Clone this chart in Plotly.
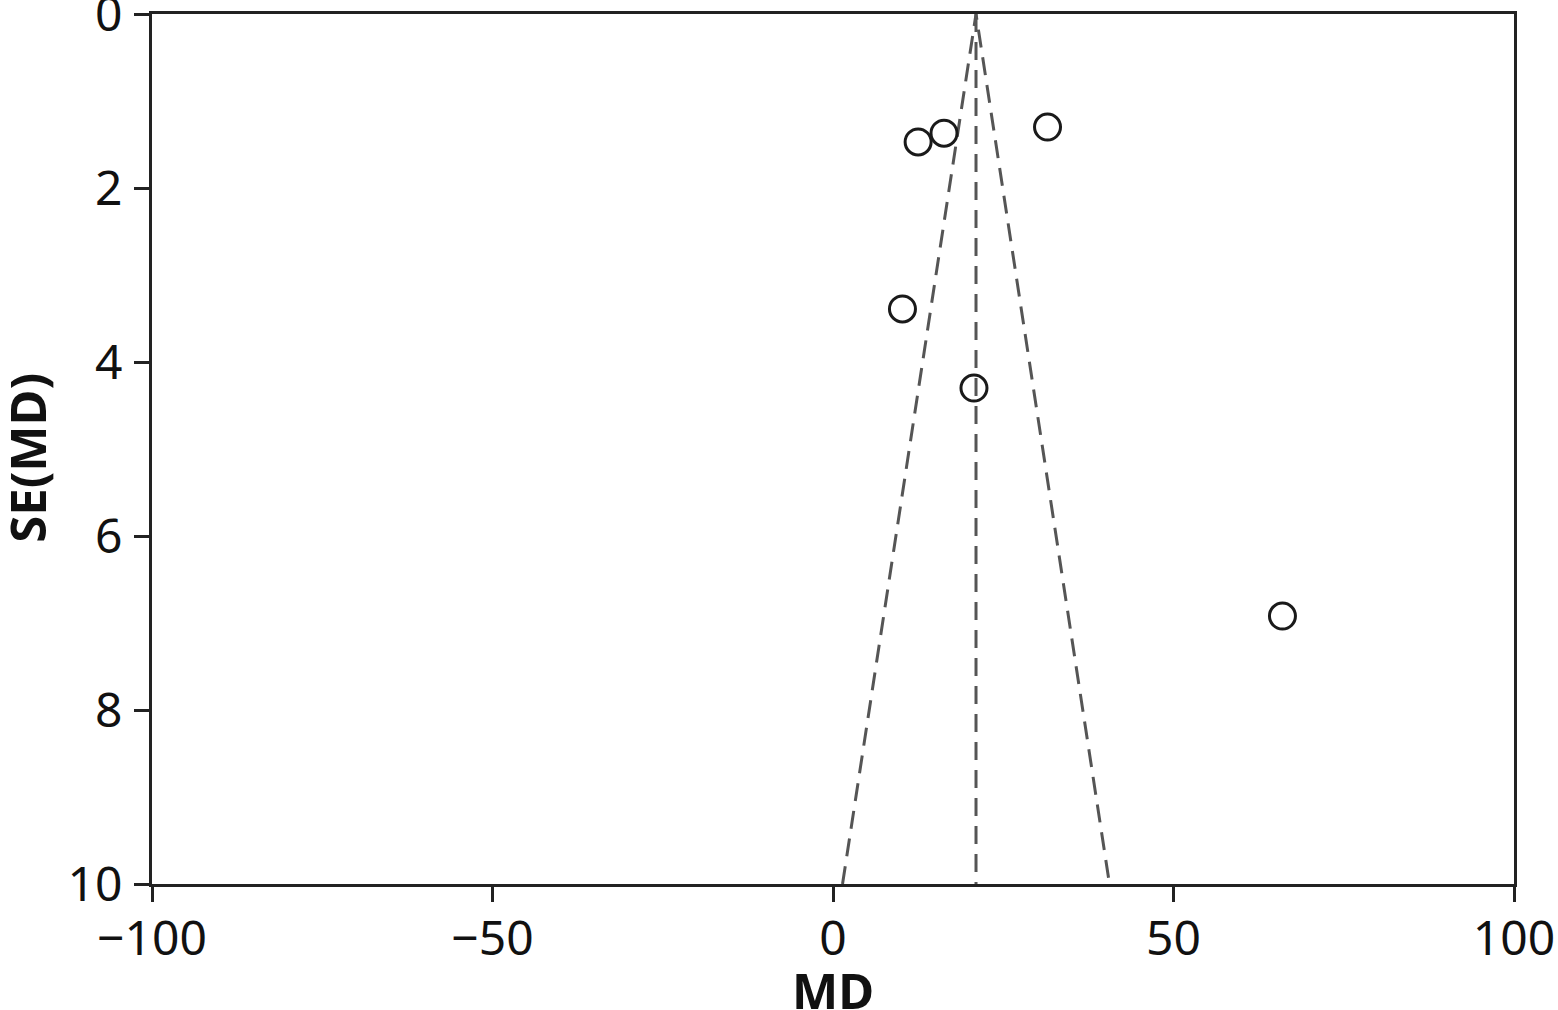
import plotly.graph_objects as go

# Study data
md = [31.5, 16.3, 12.5, 10.2, 20.7, 66.0]
se = [1.30, 1.37, 1.47, 3.39, 4.30, 6.92]

pooled_md = 21.0
se_max = 10
z = 1.96

x_ticks = [-100, -50, 0, 50, 100]
x_tick_text = ["\u2212100", "\u221250", "0", "50", "100"]
y_ticks = [0, 2, 4, 6, 8, 10]

line_color = "#555555"
axis_color = "#222222"
text_color = "#111111"
font_family = "Noto Sans, Open Sans, DejaVu Sans, sans-serif"

fig = go.Figure()

# Funnel lines (pseudo 95% limits)
fig.add_trace(go.Scatter(
    x=[pooled_md - z * se_max, pooled_md, pooled_md + z * se_max],
    y=[se_max, 0, se_max],
    mode="lines",
    line=dict(color=line_color, width=3, dash="18px,10px"),
    hoverinfo="skip", showlegend=False,
))
fig.add_trace(go.Scatter(
    x=[pooled_md, pooled_md],
    y=[0, se_max],
    mode="lines",
    line=dict(color=line_color, width=3, dash="18px,10px"),
    hoverinfo="skip", showlegend=False,
))

# Study points
fig.add_trace(go.Scatter(
    x=md, y=se,
    mode="markers",
    marker=dict(symbol="circle-open", size=26, color="#1a1a1a",
                line=dict(width=3, color="#1a1a1a")),
    showlegend=False,
))

fig.update_layout(
    width=1558, height=1010,
    paper_bgcolor="white", plot_bgcolor="white",
    margin=dict(l=152, r=44, t=14, b=126),
    font=dict(family=font_family, size=48, color=text_color),
    xaxis=dict(
        range=[-100, 100], tickvals=x_ticks, ticktext=x_tick_text,
        showgrid=False, zeroline=False,
        showline=True, linecolor=axis_color, linewidth=3, mirror=True,
        ticks="outside", ticklen=15, tickwidth=3, tickcolor=axis_color,
        tickfont=dict(size=48, color=text_color),
        ticklabeloverflow="allow",
        ticklabelstandoff=-5,
        automargin=False,
    ),
    yaxis=dict(
        range=[10, 0], tickvals=y_ticks,
        showgrid=False, zeroline=False,
        showline=True, linecolor=axis_color, linewidth=3, mirror=True,
        ticks="outside", ticklen=15, tickwidth=3, tickcolor=axis_color,
        tickfont=dict(size=48, color=text_color),
        ticklabeloverflow="allow",
        ticklabelstandoff=2,
        automargin=False,
    ),
    annotations=[
        dict(text="<b>MD</b>", xref="paper", yref="paper", x=0.5, y=0,
             xanchor="center", yanchor="middle", yshift=-106, showarrow=False,
             font=dict(size=49, color=text_color, family=font_family)),
        dict(text="<b>SE(MD)</b>", xref="paper", yref="paper", x=0, y=0.49,
             xanchor="center", yanchor="middle", xshift=-125, textangle=-90,
             showarrow=False,
             font=dict(size=49, color=text_color, family=font_family)),
    ],
)

fig.write_html("out.html", config={"displayModeBar": False},
               post_script="document.body.style.margin='0px';")
